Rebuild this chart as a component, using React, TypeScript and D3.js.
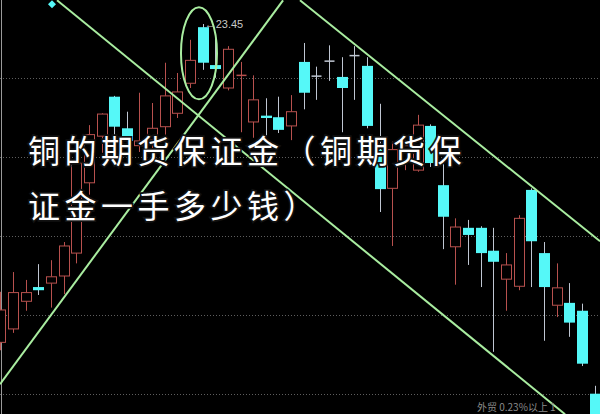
import React from "react";
import * as d3 from "d3";

const W = 600;
const H = 414;

// candle data (index order, left to right)
const opens = [19.42, 19.59, 19.94, 20.12, 20.17, 20.26, 20.55, 21.44, 22.03, 22.53, 22.13, 21.91, 21.98, 22.15, 22.32, 22.70, 23.41, 22.93, 22.64, 22.79, 22.21, 22.29, 22.27, 22.16, 22.97, 22.79, 22.98, 22.78, 23.05, 22.92, 21.86, 21.37, 21.70, 21.60, 22.16, 21.41, 20.63, 20.87, 20.87, 20.58, 20.22, 20.13, 21.35, 20.55, 19.89, 19.92, 19.82, 18.77];
const highs = [20.06, 20.31, 20.21, 20.41, 20.46, 20.69, 21.73, 22.17, 22.32, 22.54, 22.34, 22.58, 22.45, 22.96, 22.83, 23.25, 23.45, 23.27, 23.17, 22.97, 22.80, 22.51, 22.53, 22.55, 23.21, 22.91, 23.18, 23.03, 23.17, 23.03, 22.44, 21.96, 21.98, 22.30, 22.18, 21.73, 20.99, 20.97, 20.89, 20.87, 20.55, 21.03, 21.37, 20.69, 20.42, 20.17, 19.91, 18.87];
const lows = [19.32, 19.54, 19.82, 20.02, 19.86, 20.03, 20.42, 21.29, 21.82, 21.98, 21.86, 21.83, 21.86, 22.05, 22.26, 22.64, 22.87, 22.77, 22.61, 22.08, 22.01, 22.03, 22.07, 21.98, 22.37, 22.49, 22.73, 22.08, 22.49, 22.13, 21.07, 20.64, 21.60, 21.58, 21.64, 20.60, 20.15, 20.40, 20.12, 19.30, 19.82, 20.08, 20.12, 19.44, 19.74, 19.49, 19.12, 18.37];
const closes = [19.83, 20.05, 20.05, 20.08, 20.25, 20.64, 21.69, 22.05, 22.31, 22.15, 21.97, 21.97, 22.13, 22.54, 22.59, 22.99, 22.96, 22.88, 23.13, 22.80, 22.49, 22.26, 22.11, 22.34, 22.58, 22.79, 22.98, 22.64, 23.05, 22.16, 21.36, 21.86, 21.91, 22.17, 21.69, 21.01, 20.88, 20.78, 20.55, 20.44, 20.40, 20.99, 20.70, 20.12, 20.11, 19.67, 19.15, 18.44];

// dotted price grid levels
const gridLevels = [22.77, 21.77, 20.77, 19.77, 18.77];

// trend lines: [index, price] endpoints
const trendA = [[4.48, 23.75], [44.67, 18.51]];
const trendB = [[-0.03, 18.89], [22.36, 23.75]];
const trendC = [[23.7, 23.75], [47.44, 20.7]];

// highlight ellipse center [index, price]
const ellipseCenter = [15.71, 23.08];
// max marker
const maxIndex = 16;
const maxLabel = "23.45";
// diamond marker [index, price]
const diamond = [4.08, 23.7];

const titleLine1 = "铜的期货保证金（铜期货保";
const titleLine2 = "证金一手多少钱）";
const footer = "外贸  0.23%以上 1";

const RED = "#b8514e";
const CYAN = "#55f8f8";
const WICK_DOWN = "#bfc6d2";
const GREEN = "#a9eda0";

export default function App() {
  const x = d3.scaleLinear().domain([0, 47]).range([0.4, 594.5]);
  const y = d3.scaleLinear().domain([18.513, 23.754]).range([H, 0]);
  const bw = 10;

  const line = d3
    .line<number[]>()
    .x((d) => x(d[0]))
    .y((d) => y(d[1]));

  const candles = opens.map((o, i) => {
    const c = closes[i];
    const hi = highs[i];
    const lo = lows[i];
    const cx = Math.round(x(i)) + 0.5;
    const yo = y(o);
    const yc = y(c);
    const top = Math.min(yo, yc);
    const bot = Math.max(yo, yc);
    const up = c > o;
    const flat = c === o;
    if (flat) {
      return (
        <g key={i}>
          <line x1={cx} x2={cx} y1={y(hi)} y2={y(lo)} stroke={WICK_DOWN} strokeWidth={1} />
          <line x1={cx - bw / 2} x2={cx + bw / 2} y1={top} y2={top} stroke={WICK_DOWN} strokeWidth={1.5} />
        </g>
      );
    }
    if (up) {
      return (
        <g key={i}>
          <line x1={cx} x2={cx} y1={y(hi)} y2={top} stroke={RED} strokeWidth={1} />
          <line x1={cx} x2={cx} y1={bot} y2={y(lo)} stroke={RED} strokeWidth={1} />
          {bot - top < 1.5 ? (
            <line x1={cx - bw / 2} x2={cx + bw / 2} y1={top} y2={top} stroke={RED} strokeWidth={1.5} />
          ) : (
            <rect x={cx - bw / 2} y={top} width={bw} height={bot - top} fill="#000" stroke={RED} strokeWidth={1} />
          )}
        </g>
      );
    }
    return (
      <g key={i}>
        <line x1={cx} x2={cx} y1={y(hi)} y2={y(lo)} stroke={WICK_DOWN} strokeWidth={1} />
        <rect x={cx - bw / 2 - 0.5} y={top} width={bw + 1} height={Math.max(bot - top, 2)} fill={CYAN} />
      </g>
    );
  });

  const dx = x(diamond[0]);
  const dy = y(diamond[1]);

  return (
    <svg
      width={W}
      height={H}
      style={{ position: "fixed", left: 0, top: 0, background: "#000", display: "block" }}
    >
      <rect x={0} y={0} width={W} height={H} fill="#000" />
      {gridLevels.map((g, i) => (
        <line
          key={i}
          x1={0}
          x2={W}
          y1={Math.round(y(g)) + 0.5}
          y2={Math.round(y(g)) + 0.5}
          stroke="#5e5e5e"
          strokeWidth={1}
          strokeDasharray="1 2"
        />
      ))}
      <line x1={1.5} x2={1.5} y1={0} y2={H} stroke="#9a9a9a" strokeWidth={1} />
      {candles}
      <path
        d={`M${dx},${dy - 4}L${dx + 4},${dy}L${dx},${dy + 4}L${dx - 4},${dy}Z`}
        fill={CYAN}
      />
      <path d={line(trendA as any) || ""} stroke={GREEN} strokeWidth={2} fill="none" />
      <path d={line(trendB as any) || ""} stroke={GREEN} strokeWidth={2} fill="none" />
      <path d={line(trendC as any) || ""} stroke={GREEN} strokeWidth={2} fill="none" />
      <ellipse
        cx={x(ellipseCenter[0])}
        cy={y(ellipseCenter[1])}
        rx={18}
        ry={46}
        fill="none"
        stroke={GREEN}
        strokeWidth={2}
      />
      <text
        x={x(maxIndex) + 2}
        y={y(highs[maxIndex]) + 4}
        fill="#c8c8c8"
        fontSize={11}
        fontFamily="Liberation Sans, Arial, sans-serif"
      >
        {"←" + maxLabel}
      </text>
      <g
        fontFamily="'Noto Sans CJK SC', sans-serif"
        fontSize={32}
        fill="#fff"
        stroke="#111"
        strokeWidth={3.5}
        style={{ paintOrder: "stroke", letterSpacing: "4.5px" }}
      >
        <text x={28} y={163}>{titleLine1}</text>
        <text x={28} y={218}>{titleLine2}</text>
      </g>
      <text
        x={477}
        y={411}
        fill="#8a8a8a"
        fontSize={10}
        fontFamily="'Noto Sans CJK SC', sans-serif"
      >
        {footer}
      </text>
    </svg>
  );
}
